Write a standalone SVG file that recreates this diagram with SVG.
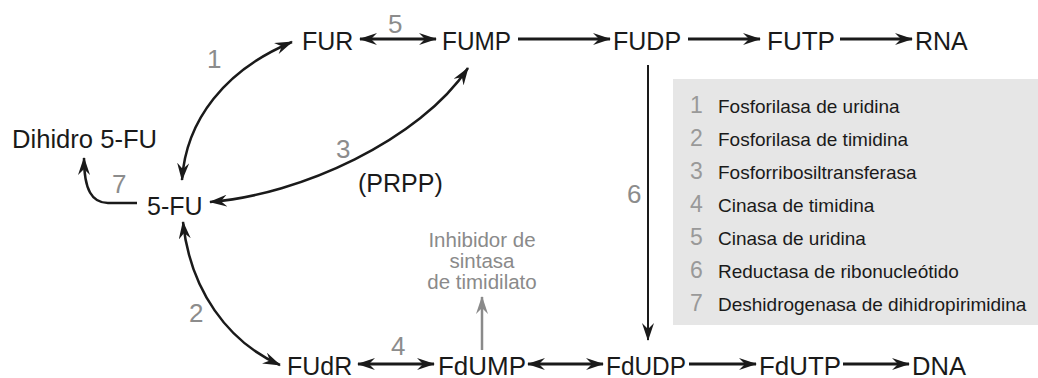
<svg xmlns="http://www.w3.org/2000/svg" width="1038" height="378" viewBox="0 0 1038 378">
<style>
.lbl{font-family:"Liberation Sans",Arial,sans-serif;font-size:25px;fill:#1a1a1a}
.num{font-family:"Liberation Sans",Arial,sans-serif;font-size:26px;fill:#8c8c8c}
.leg{font-family:"Liberation Sans",Arial,sans-serif;font-size:19px;fill:#1a1a1a}
.legn{font-family:"Liberation Sans",Arial,sans-serif;font-size:23px;fill:#999999}
.inh{font-family:"Liberation Sans",Arial,sans-serif;font-size:20.5px;fill:#8a8a8a}
.c{fill:none;stroke:#1a1a1a;stroke-width:2.5}
.h{fill:none;stroke:#1a1a1a;stroke-width:3.2}
</style>
<defs>
<marker id="ah" viewBox="0 0 18 12" refX="17" refY="6" markerWidth="18" markerHeight="12" markerUnits="userSpaceOnUse" orient="auto-start-reverse">
<path d="M0,0 L18,6 L0,12 L6,6 z" fill="#1a1a1a"/>
</marker>
<marker id="ahg" viewBox="0 0 18 12" refX="17" refY="6" markerWidth="18" markerHeight="12" markerUnits="userSpaceOnUse" orient="auto-start-reverse">
<path d="M0,0 L18,6 L0,12 L6,6 z" fill="#8a8a8a"/>
</marker>
</defs>
<rect x="673" y="79" width="365" height="246" fill="#e6e6e6"/>
<g id="connectors">
<path class="c" d="M182,180 C186,120 225,70 292,42" marker-start="url(#ah)" marker-end="url(#ah)"/>
<path class="h" d="M360,39 L436,39" marker-start="url(#ah)" marker-end="url(#ah)"/>
<path class="h" d="M518,39 L610,39" marker-end="url(#ah)"/>
<path class="h" d="M688,39 L760,39" marker-end="url(#ah)"/>
<path class="h" d="M840,39 L912,39" marker-end="url(#ah)"/>
<path class="c" d="M210,202 C300,195 420,140 468,68" marker-start="url(#ah)" marker-end="url(#ah)"/>
<path class="c" d="M137,203 L108,203 C92,203 84,190 84,158" marker-end="url(#ah)"/>
<path class="c" d="M183,222 C190,290 228,342 280,365" marker-start="url(#ah)" marker-end="url(#ah)"/>
<path fill="none" stroke="#1a1a1a" stroke-width="2" d="M648,65 L648,340" marker-end="url(#ah)"/>
<path fill="none" stroke="#8a8a8a" stroke-width="2.5" d="M482,350 L482,297" marker-end="url(#ahg)"/>
<path class="h" d="M358,364 L434,364" marker-start="url(#ah)" marker-end="url(#ah)"/>
<path class="h" d="M528,364 L603,364" marker-start="url(#ah)" marker-end="url(#ah)"/>
<path class="h" d="M689,364 L756,364" marker-end="url(#ah)"/>
<path class="h" d="M843,364 L909,364" marker-end="url(#ah)"/>
<text class="num" x="207" y="68">1</text>
<text class="num" x="388" y="33">5</text>
<text class="num" x="336" y="158">3</text>
<text class="lbl" x="358" y="192">(PRPP)</text>
<text class="num" x="112" y="193">7</text>
<text class="num" x="189" y="322">2</text>
<text class="num" x="391" y="355">4</text>
<text class="num" x="627" y="203">6</text>
</g>
<g id="n-fur"><text class="lbl" x="302" y="50">FUR</text></g>
<g id="n-fump"><text class="lbl" x="442" y="50" textLength="69" lengthAdjust="spacingAndGlyphs">FUMP</text></g>
<g id="n-fudp"><text class="lbl" x="613" y="50">FUDP</text></g>
<g id="n-futp"><text class="lbl" x="767" y="50" textLength="68" lengthAdjust="spacingAndGlyphs">FUTP</text></g>
<g id="n-rna"><text class="lbl" x="915" y="50">RNA</text></g>
<g id="n-dihidro"><text class="lbl" x="12" y="148" textLength="145" lengthAdjust="spacingAndGlyphs">Dihidro 5-FU</text></g>
<g id="n-5fu"><text class="lbl" x="147" y="215">5-FU</text></g>
<g id="n-fudr"><text class="lbl" x="287" y="375">FUdR</text></g>
<g id="n-fdump"><text class="lbl" x="438" y="375" textLength="88" lengthAdjust="spacingAndGlyphs">FdUMP</text></g>
<g id="n-fdudp"><text class="lbl" x="606" y="375" textLength="80" lengthAdjust="spacingAndGlyphs">FdUDP</text></g>
<g id="n-fdutp"><text class="lbl" x="759" y="375" textLength="82" lengthAdjust="spacingAndGlyphs">FdUTP</text></g>
<g id="n-dna"><text class="lbl" x="912" y="375" textLength="54" lengthAdjust="spacingAndGlyphs">DNA</text></g>
<g id="n-inhibidor">
<text class="inh" x="482" y="247" text-anchor="middle">Inhibidor de</text>
<text class="inh" x="482" y="268" text-anchor="middle">sintasa</text>
<text class="inh" x="482" y="289" text-anchor="middle">de timidilato</text>
</g>
<g id="legend">
<text class="legn" x="690" y="113">1</text><text class="leg" x="718" y="113">Fosforilasa de uridina</text>
<text class="legn" x="690" y="146">2</text><text class="leg" x="718" y="146">Fosforilasa de timidina</text>
<text class="legn" x="690" y="179">3</text><text class="leg" x="718" y="179">Fosforribosiltransferasa</text>
<text class="legn" x="690" y="212">4</text><text class="leg" x="718" y="212">Cinasa de timidina</text>
<text class="legn" x="690" y="245">5</text><text class="leg" x="718" y="245">Cinasa de uridina</text>
<text class="legn" x="690" y="278">6</text><text class="leg" x="718" y="278">Reductasa de ribonucleótido</text>
<text class="legn" x="690" y="311">7</text><text class="leg" x="718" y="311">Deshidrogenasa de dihidropirimidina</text>
</g>
</svg>
